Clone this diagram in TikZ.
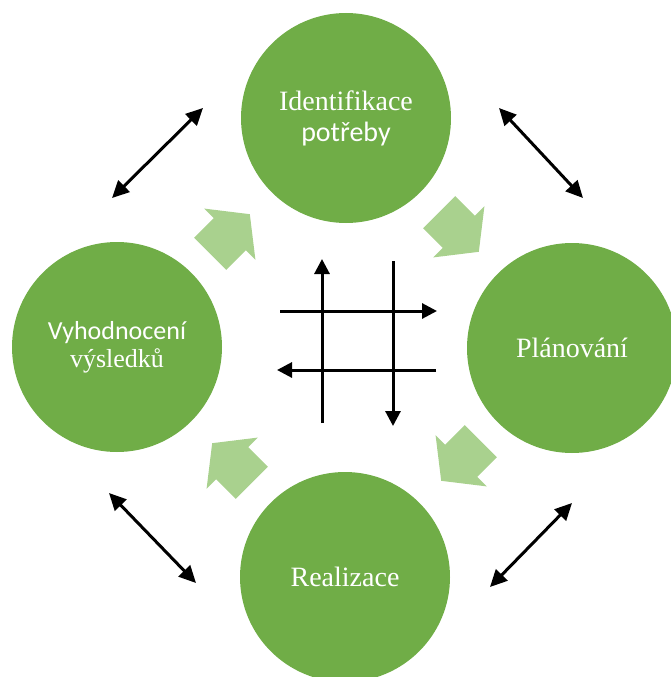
\documentclass[tikz,border=0pt]{standalone}
\usepackage{fontspec}
\setmainfont{Liberation Serif}
\newfontfamily\calibri{Carlito}
\usetikzlibrary{positioning}
\usetikzlibrary{shapes.arrows}
\usetikzlibrary{arrows.meta}
\definecolor{phasegreen}{HTML}{70AD47}
\definecolor{stepgreen}{HTML}{A9D18E}

\begin{document}
\begin{tikzpicture}[x=1pt, y=-1pt,
    phase/.style={circle, fill=phasegreen, minimum size=210pt, inner sep=0pt, text=white, align=center, font=\fontsize{28}{31}\selectfont},
    cycle/.style={single arrow, fill=stepgreen, inner xsep=0pt, inner ysep=22.5pt, minimum width=72pt, minimum height=56pt, single arrow head extend=13.5pt, single arrow tip angle=104, anchor=tip},
    link/.style={line width=3pt, {Triangle[length=17pt,width=16pt]}-{Triangle[length=17pt,width=16pt]}},
    flow/.style={line width=3pt, -{Triangle[length=15pt,width=15pt]}}]
    \useasboundingbox (0,0) rectangle (670,677);

    % Phases
    \node[phase] (need) at (346,118) {Identifikace\\{\calibri potřeby}};
    \node[phase] (plan) at (572,348) {Plánování};
    \node[phase] (real) at (345,577) {Realizace};
    \node[phase, font=\fontsize{26}{28}\selectfont] (eval) at (117,347) {{\calibri Vyhodnocení}\\výsledků};

    % Cycle arrows
    \node[cycle, rotate=45] (evalneed) at (250,214) {};
    \node[cycle, rotate=-45] (needplan) at (479,252) {};
    \node[cycle, rotate=-135] (planreal) at (441,481) {};
    \node[cycle, rotate=135] (realeval) at (212,443) {};

    % Links
    \coordinate (nwa) at (112,198);
    \coordinate (nwb) at (203,108);
    \coordinate (nea) at (499,108);
    \coordinate (neb) at (583,198);
    \coordinate (swa) at (109,493);
    \coordinate (swb) at (196,583);
    \coordinate (sea) at (490,587);
    \coordinate (seb) at (572,503);
    \draw[link] (nwa) -- (nwb);
    \draw[link] (nea) -- (neb);
    \draw[link] (swa) -- (swb);
    \draw[link] (sea) -- (seb);

    % Grid
    \coordinate (toprowa) at (280,311);
    \coordinate (toprowb) at (437,311);
    \coordinate (lowrowa) at (436,370);
    \coordinate (lowrowb) at (277,370);
    \coordinate (leftcola) at (322,423);
    \coordinate (leftcolb) at (322,259);
    \coordinate (rightcola) at (393,261);
    \coordinate (rightcolb) at (393,426);
    \draw[flow] (toprowa) -- (toprowb);
    \draw[flow] (lowrowa) -- (lowrowb);
    \draw[flow] (leftcola) -- (leftcolb);
    \draw[flow] (rightcola) -- (rightcolb);
\end{tikzpicture}
\end{document}
